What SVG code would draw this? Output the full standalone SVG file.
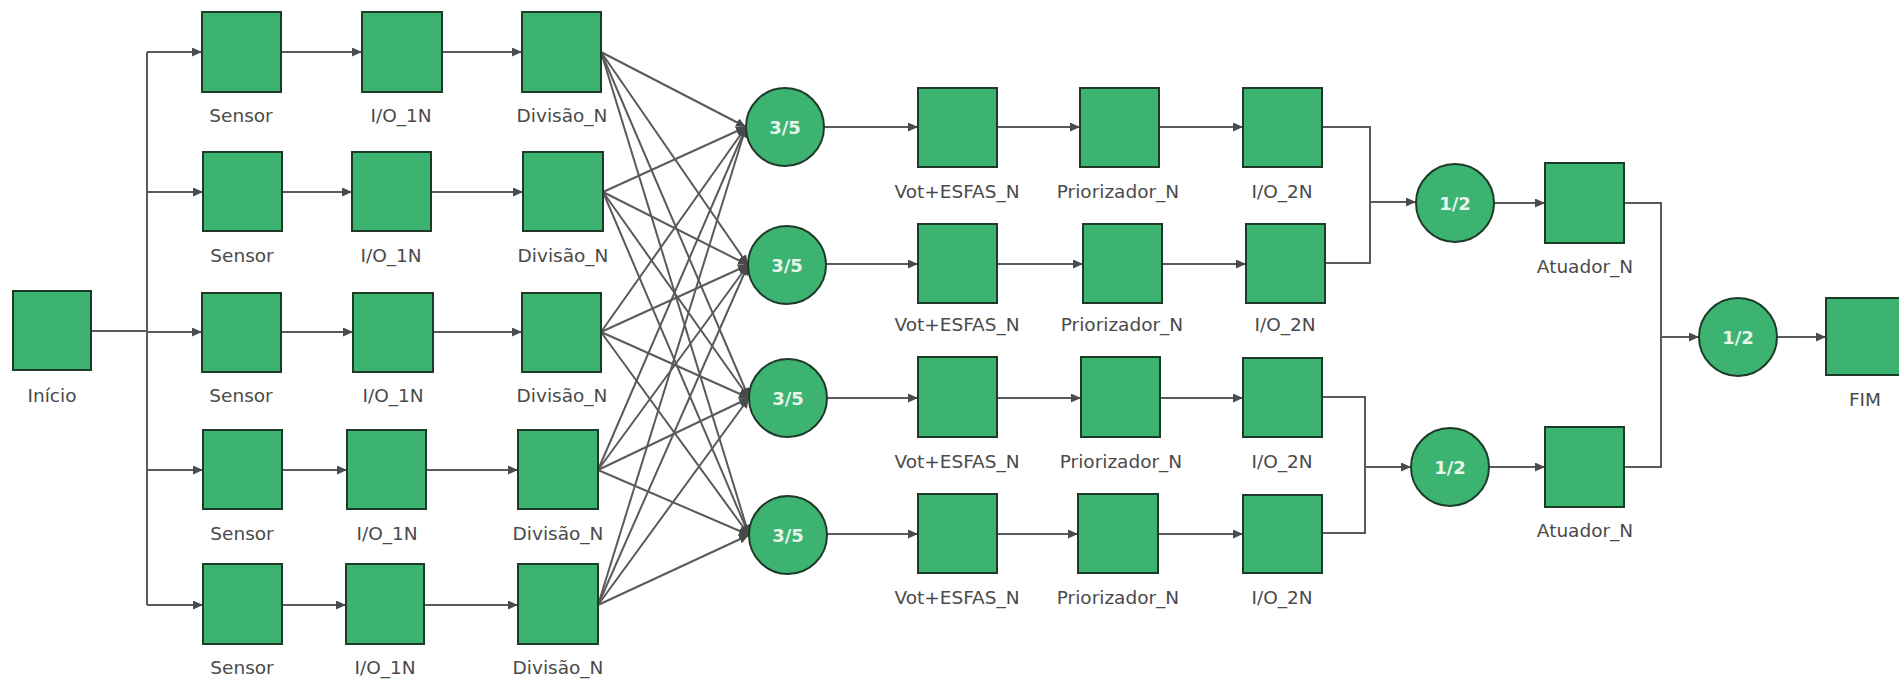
<svg xmlns="http://www.w3.org/2000/svg" width="1899" height="680" viewBox="0 0 1899 680">
<style>
.b{fill:#3cb371;stroke:#1e3a28;stroke-width:2}
.c{fill:#3cb371;stroke:#1e3a28;stroke-width:2}
.l{font-family:"DejaVu Sans",Verdana,sans-serif;font-size:18.5px;fill:#4a4a4a;text-anchor:middle}
.t{font-family:"DejaVu Sans",Verdana,sans-serif;font-size:18px;font-weight:bold;fill:#e6f5ea;text-anchor:middle}
.e{fill:none;stroke:#5a5a5a;stroke-width:2}
.a{marker-end:url(#ar)}
</style>
<defs>
<marker id="ar" markerUnits="userSpaceOnUse" markerWidth="11" markerHeight="9" refX="10" refY="4.5" orient="auto">
<path d="M0,0 L10,4.5 L0,9 z" fill="#4a4a4a"/>
</marker>
</defs>
<rect width="1899" height="680" fill="#ffffff"/>
<g id="connectors">
<path class="e" d="M91,331 H147" stroke-width="3"/>
<path class="e" d="M147,52 V605"/>
<path class="e a" d="M147,52 H202"/>
<path class="e a" d="M147,192 H203"/>
<path class="e a" d="M147,332 H202"/>
<path class="e a" d="M147,470 H203"/>
<path class="e a" d="M147,605 H203"/>
<path class="e a" d="M281,52 H362"/>
<path class="e a" d="M282,192 H352"/>
<path class="e a" d="M281,332 H353"/>
<path class="e a" d="M282,470 H347"/>
<path class="e a" d="M282,605 H346"/>
<path class="e a" d="M442,52 H522"/>
<path class="e a" d="M431,192 H523"/>
<path class="e a" d="M433,332 H522"/>
<path class="e a" d="M426,470 H518"/>
<path class="e a" d="M424,605 H518"/>
<g id="mesh">
<path class="e a" d="M601,52 L746,127"/>
<path class="e a" d="M601,52 L748,265"/>
<path class="e a" d="M601,52 L749,398"/>
<path class="e a" d="M601,52 L749,535"/>
<path class="e a" d="M603,192 L746,127"/>
<path class="e a" d="M603,192 L748,265"/>
<path class="e a" d="M603,192 L749,398"/>
<path class="e a" d="M603,192 L749,535"/>
<path class="e a" d="M601,332 L746,127"/>
<path class="e a" d="M601,332 L748,265"/>
<path class="e a" d="M601,332 L749,398"/>
<path class="e a" d="M601,332 L749,535"/>
<path class="e a" d="M598,470 L746,127"/>
<path class="e a" d="M598,470 L748,265"/>
<path class="e a" d="M598,470 L749,398"/>
<path class="e a" d="M598,470 L749,535"/>
<path class="e a" d="M598,605 L746,127"/>
<path class="e a" d="M598,605 L748,265"/>
<path class="e a" d="M598,605 L749,398"/>
<path class="e a" d="M598,605 L749,535"/>
</g>
<path class="e a" d="M824,127 H918"/>
<path class="e a" d="M826,264 H918"/>
<path class="e a" d="M827,398 H918"/>
<path class="e a" d="M827,534 H918"/>
<path class="e a" d="M997,127 H1080"/>
<path class="e a" d="M997,264 H1083"/>
<path class="e a" d="M997,398 H1081"/>
<path class="e a" d="M997,534 H1078"/>
<path class="e a" d="M1159,127 H1243"/>
<path class="e a" d="M1162,264 H1246"/>
<path class="e a" d="M1160,398 H1243"/>
<path class="e a" d="M1158,534 H1243"/>
<path class="e" d="M1322,127 H1370 V263 H1325"/>
<path class="e a" d="M1370,202 H1416"/>
<path class="e" d="M1322,397 H1365 V533 H1322"/>
<path class="e a" d="M1365,467 H1411"/>
<path class="e a" d="M1494,203 H1545"/>
<path class="e a" d="M1489,467 H1545"/>
<path class="e" d="M1624,203 H1661 V467 H1624"/>
<path class="e a" d="M1661,337 H1699"/>
<path class="e a" d="M1777,337 H1826"/>
</g>
<g id="inicio"><rect class="b" x="13" y="291" width="78" height="79"/><text class="l" x="52" y="402">Início</text></g>
<g id="sensor1"><rect class="b" x="202" y="12" width="79" height="80"/><text class="l" x="241" y="122">Sensor</text></g>
<g id="sensor2"><rect class="b" x="203" y="152" width="79" height="79"/><text class="l" x="242" y="262">Sensor</text></g>
<g id="sensor3"><rect class="b" x="202" y="293" width="79" height="79"/><text class="l" x="241" y="402">Sensor</text></g>
<g id="sensor4"><rect class="b" x="203" y="430" width="79" height="79"/><text class="l" x="242" y="540">Sensor</text></g>
<g id="sensor5"><rect class="b" x="203" y="564" width="79" height="80"/><text class="l" x="242" y="674">Sensor</text></g>
<g id="io1_1"><rect class="b" x="362" y="12" width="80" height="80"/><text class="l" x="401" y="122">I/O_1N</text></g>
<g id="io1_2"><rect class="b" x="352" y="152" width="79" height="79"/><text class="l" x="391" y="262">I/O_1N</text></g>
<g id="io1_3"><rect class="b" x="353" y="293" width="80" height="79"/><text class="l" x="393" y="402">I/O_1N</text></g>
<g id="io1_4"><rect class="b" x="347" y="430" width="79" height="79"/><text class="l" x="387" y="540">I/O_1N</text></g>
<g id="io1_5"><rect class="b" x="346" y="564" width="78" height="80"/><text class="l" x="385" y="674">I/O_1N</text></g>
<g id="div1"><rect class="b" x="522" y="12" width="79" height="80"/><text class="l" x="562" y="122">Divisão_N</text></g>
<g id="div2"><rect class="b" x="523" y="152" width="80" height="79"/><text class="l" x="563" y="262">Divisão_N</text></g>
<g id="div3"><rect class="b" x="522" y="293" width="79" height="79"/><text class="l" x="562" y="402">Divisão_N</text></g>
<g id="div4"><rect class="b" x="518" y="430" width="80" height="79"/><text class="l" x="558" y="540">Divisão_N</text></g>
<g id="div5"><rect class="b" x="518" y="564" width="80" height="80"/><text class="l" x="558" y="674">Divisão_N</text></g>
<g id="vote1"><circle class="c" cx="785" cy="127" r="39"/><text class="t" x="785" y="134">3/5</text></g>
<g id="vote2"><circle class="c" cx="787" cy="265" r="39"/><text class="t" x="787" y="272">3/5</text></g>
<g id="vote3"><circle class="c" cx="788" cy="398" r="39"/><text class="t" x="788" y="405">3/5</text></g>
<g id="vote4"><circle class="c" cx="788" cy="535" r="39"/><text class="t" x="788" y="542">3/5</text></g>
<g id="vot1"><rect class="b" x="918" y="88" width="79" height="79"/><text class="l" x="957" y="198">Vot+ESFAS_N</text></g>
<g id="vot2"><rect class="b" x="918" y="224" width="79" height="79"/><text class="l" x="957" y="331">Vot+ESFAS_N</text></g>
<g id="vot3"><rect class="b" x="918" y="357" width="79" height="80"/><text class="l" x="957" y="468">Vot+ESFAS_N</text></g>
<g id="vot4"><rect class="b" x="918" y="494" width="79" height="79"/><text class="l" x="957" y="604">Vot+ESFAS_N</text></g>
<g id="prio1"><rect class="b" x="1080" y="88" width="79" height="79"/><text class="l" x="1118" y="198">Priorizador_N</text></g>
<g id="prio2"><rect class="b" x="1083" y="224" width="79" height="79"/><text class="l" x="1122" y="331">Priorizador_N</text></g>
<g id="prio3"><rect class="b" x="1081" y="357" width="79" height="80"/><text class="l" x="1121" y="468">Priorizador_N</text></g>
<g id="prio4"><rect class="b" x="1078" y="494" width="80" height="79"/><text class="l" x="1118" y="604">Priorizador_N</text></g>
<g id="io2_1"><rect class="b" x="1243" y="88" width="79" height="79"/><text class="l" x="1282" y="198">I/O_2N</text></g>
<g id="io2_2"><rect class="b" x="1246" y="224" width="79" height="79"/><text class="l" x="1285" y="331">I/O_2N</text></g>
<g id="io2_3"><rect class="b" x="1243" y="358" width="79" height="79"/><text class="l" x="1282" y="468">I/O_2N</text></g>
<g id="io2_4"><rect class="b" x="1243" y="495" width="79" height="78"/><text class="l" x="1282" y="604">I/O_2N</text></g>
<g id="or1"><circle class="c" cx="1455" cy="203" r="39"/><text class="t" x="1455" y="210">1/2</text></g>
<g id="or2"><circle class="c" cx="1450" cy="467" r="39"/><text class="t" x="1450" y="474">1/2</text></g>
<g id="atu1"><rect class="b" x="1545" y="163" width="79" height="80"/><text class="l" x="1585" y="273">Atuador_N</text></g>
<g id="atu2"><rect class="b" x="1545" y="427" width="79" height="80"/><text class="l" x="1585" y="537">Atuador_N</text></g>
<g id="or3"><circle class="c" cx="1738" cy="337" r="39"/><text class="t" x="1738" y="344">1/2</text></g>
<g id="fim"><rect class="b" x="1826" y="298" width="80" height="77"/><text class="l" x="1865" y="406">FIM</text></g>
</svg>
